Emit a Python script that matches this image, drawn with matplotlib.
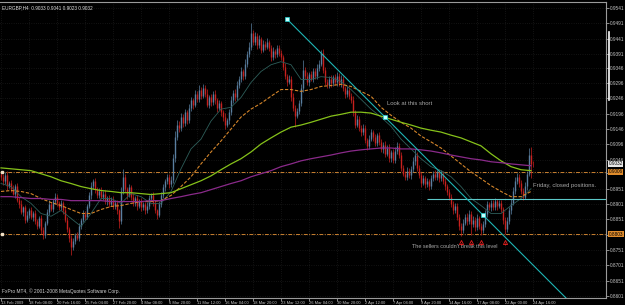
import matplotlib.pyplot as plt
import matplotlib.transforms as mtransforms
from matplotlib.lines import Line2D
import numpy as np

plt.rcParams['font.family'] = ['Liberation Sans', 'DejaVu Sans']

# EURGBP H4 candles, prices in pips (x 0.0001)
first_open = 8998
close_pips = [
    8990, 8975, 8995, 8960, 8970, 8950, 8935, 8960, 8915, 8900,
    8875, 8890, 8850, 8865, 8880, 8860, 8872, 8845, 8830, 8855,
    8815, 8800, 8840, 8875, 8900, 8885, 8910, 8925, 8905, 8890,
    8905, 8880, 8850, 8820, 8790, 8760, 8780, 8800, 8790, 8830,
    8850, 8870, 8860, 8895, 8930, 8960, 8975, 8950, 8930, 8945,
    8925, 8935, 8910, 8920, 8900, 8915, 8895, 8905, 8880, 8845,
    8945, 8990, 8950, 8930, 8955, 8925, 8905, 8920, 8895, 8910,
    8890, 8900, 8880, 8895, 8920, 8930, 8905, 8880, 8865, 8900,
    8930, 8955, 8975, 8990, 8965, 8980, 9050, 9120, 9160, 9150,
    9185, 9165, 9200, 9175, 9215, 9240, 9225, 9260, 9245, 9275,
    9255, 9280, 9262, 9225, 9250, 9235, 9260, 9240, 9215, 9230,
    9200, 9185, 9160, 9175, 9200, 9240, 9265, 9250, 9290, 9310,
    9335, 9320, 9360, 9390, 9415, 9460, 9430, 9450, 9420, 9440,
    9405, 9425, 9415, 9430, 9410, 9380, 9400, 9390, 9410, 9395,
    9380, 9350, 9320, 9300, 9310, 9250, 9215, 9190, 9205, 9230,
    9280, 9340, 9320, 9300, 9325, 9310, 9335, 9320, 9345, 9360,
    9395, 9340, 9300, 9290, 9310, 9295, 9315, 9300, 9320, 9295,
    9310, 9280, 9260, 9275, 9255, 9240, 9200, 9160, 9180, 9150,
    9135, 9150, 9110, 9090, 9115, 9135, 9120, 9100, 9125, 9105,
    9080, 9095, 9065, 9085, 9050, 9070, 9045, 9075, 9090, 9060,
    9020, 9000, 8990, 9010, 8995, 9015, 9040, 9060, 9020, 8995,
    8970, 8985, 8965, 8975, 8960, 8985, 9000, 8990, 9005, 8985,
    9000, 8975, 8960, 8940, 8925, 8900, 8880, 8895, 8860, 8830,
    8815, 8840, 8860, 8845, 8870, 8835, 8850, 8825, 8855, 8830,
    8815, 8835, 8870, 8900, 8890, 8905, 8890, 8910, 8895, 8905,
    8885, 8850, 8820, 8845, 8880, 8905, 8945, 8975, 8990, 8970,
    8945, 8925, 8960, 9000, 9060, 9033, 9032,
]
upper_wick = [
    12, 8, 10, 15, 6, 9, 12, 7, 10, 8,
    14, 6, 9, 12, 7, 10, 5, 11, 8, 6,
    9, 12, 7, 10, 14, 6, 8, 11, 9, 5,
    10, 7, 12, 8, 6, 9, 11, 7, 10, 8,
    6, 12, 9, 7, 10, 14, 8, 11, 6, 9,
    10, 7, 12, 6, 9, 8, 11, 7, 10, 6,
    12, 26, 9, 7, 10, 8, 11, 6, 9, 7,
    10, 8, 6, 12, 9, 7, 10, 8, 6, 11,
    9, 12, 7, 10, 8, 11, 14, 18, 15, 12,
    14, 9, 11, 8, 12, 10, 7, 13, 9, 15,
    8, 12, 10, 14, 7, 11, 9, 12, 8, 10,
    9, 7, 12, 8, 10, 13, 9, 11, 14, 10,
    12, 8, 15, 11, 14, 32, 10, 13, 9, 12,
    8, 11, 9, 12, 7, 10, 13, 8, 11, 9,
    10, 8, 12, 7, 11, 9, 13, 8, 10, 12,
    14, 33, 9, 11, 8, 12, 10, 9, 13, 11,
    10, 12, 8, 11, 9, 13, 7, 10, 12, 8,
    11, 9, 7, 12, 8, 10, 13, 9, 11, 8,
    10, 12, 9, 7, 13, 10, 8, 11, 9, 12,
    10, 8, 12, 9, 11, 7, 10, 13, 15, 9,
    11, 8, 10, 12, 9, 11, 14, 21, 10, 8,
    9, 12, 7, 10, 8, 11, 9, 13, 8, 10,
    12, 8, 10, 7, 11, 9, 12, 8, 10, 7,
    9, 11, 8, 12, 10, 7, 11, 9, 12, 8,
    10, 9, 12, 11, 8, 10, 9, 12, 8, 10,
    9, 7, 10, 12, 11, 13, 10, 14, 12, 9,
    11, 8, 12, 10, 25, 27, 8,
]
lower_wick = [
    9, 11, 7, 12, 8, 10, 6, 13, 9, 11,
    8, 12, 10, 7, 11, 9, 13, 8, 10, 7,
    12, 14, 9, 8, 11, 7, 10, 9, 12, 8,
    9, 11, 8, 10, 12, 26, 9, 11, 8, 10,
    12, 8, 10, 9, 7, 11, 9, 12, 8, 10,
    9, 11, 8, 12, 10, 7, 11, 9, 12, 23,
    8, 10, 9, 12, 7, 11, 9, 10, 12, 8,
    11, 9, 12, 8, 10, 7, 11, 9, 14, 8,
    10, 9, 12, 8, 11, 10, 9, 12, 10, 14,
    9, 12, 8, 11, 10, 9, 13, 8, 11, 10,
    12, 9, 11, 8, 10, 13, 9, 11, 12, 8,
    10, 12, 14, 9, 11, 8, 10, 12, 9, 11,
    10, 13, 9, 11, 8, 12, 10, 9, 13, 8,
    11, 9, 12, 8, 10, 13, 9, 11, 8, 12,
    9, 11, 10, 13, 8, 12, 10, 38, 9, 11,
    10, 12, 9, 11, 13, 8, 10, 12, 9, 11,
    8, 12, 10, 9, 11, 13, 8, 10, 12, 9,
    11, 10, 12, 8, 11, 9, 10, 12, 9, 11,
    12, 9, 11, 14, 10, 8, 12, 9, 11, 10,
    9, 12, 10, 8, 11, 13, 9, 10, 12, 8,
    11, 9, 12, 10, 8, 11, 9, 12, 10, 9,
    12, 8, 11, 9, 13, 10, 8, 11, 9, 12,
    10, 9, 12, 8, 11, 10, 12, 9, 11, 13,
    19, 10, 9, 12, 8, 35, 10, 12, 9, 11,
    16, 10, 9, 12, 8, 11, 9, 10, 12, 8,
    11, 13, 17, 10, 9, 12, 8, 11, 10, 12,
    11, 10, 9, 12, 8, 48, 9,
]

# moving averages read every 5 bars (pips)
ma_step = 5
ma_fast = [8968, 8958, 8925, 8903, 8870, 8861, 8880, 8854, 8828, 8870,
           8919, 8919, 8903, 8935, 8925, 8903, 8903, 8942, 9016, 9081,
           9113, 9172, 9211, 9217, 9249, 9298, 9334, 9356, 9366, 9356,
           9308, 9308, 9317, 9314, 9301, 9275, 9243, 9211, 9185, 9155,
           9113, 9081, 9049, 9023, 9010, 8990, 8958, 8919, 8896, 8870,
           8870, 8896, 8919, 8951]
ma_mid = [8942, 8945, 8942, 8935, 8919, 8906, 8896, 8883, 8870, 8870,
          8883, 8893, 8896, 8903, 8909, 8909, 8912, 8929, 8958, 8990,
          9032, 9071, 9107, 9146, 9185, 9211, 9230, 9253, 9275, 9275,
          9269, 9275, 9285, 9288, 9292, 9285, 9269, 9253, 9217, 9191,
          9168, 9149, 9123, 9104, 9084, 9058, 9032, 9006, 8984, 8961,
          8942, 8925, 8925, 8942]
ma_slow = [9019, 9016, 9013, 9010, 9000, 8990, 8977, 8968, 8958, 8951,
           8945, 8942, 8938, 8938, 8935, 8932, 8935, 8938, 8951, 8964,
           8977, 8993, 9013, 9032, 9049, 9071, 9097, 9117, 9136, 9152,
           9159, 9168, 9178, 9188, 9194, 9201, 9201, 9198, 9188, 9178,
           9168, 9159, 9149, 9142, 9136, 9126, 9117, 9104, 9091, 9065,
           9042, 9023, 9013, 9010]
ma_long = [8925, 8925, 8922, 8919, 8919, 8916, 8916, 8912, 8912, 8912,
           8912, 8909, 8909, 8909, 8909, 8912, 8912, 8919, 8925, 8932,
           8938, 8948, 8958, 8968, 8977, 8990, 9000, 9010, 9023, 9032,
           9042, 9049, 9055, 9061, 9068, 9074, 9078, 9081, 9084, 9084,
           9081, 9081, 9078, 9074, 9068, 9061, 9055, 9049, 9045, 9039,
           9036, 9032, 9029, 9026]

date_labels = ['13 Feb 2009', '18 Feb 08:00', '20 Feb 16:00', '25 Feb 04:00',
               '27 Feb 20:00', '4 Mar 08:00', '6 Mar 20:00', '11 Mar 12:00',
               '16 Mar 04:00', '18 Mar 20:00', '23 Mar 12:00', '26 Mar 04:00',
               '30 Mar 20:00', '2 Apr 12:00', '7 Apr 04:00', '9 Apr 20:00',
               '14 Apr 16:00', '17 Apr 08:00', '22 Apr 00:00', '24 Apr 16:00']
label_every = 14
price_ticks = [0.9541, 0.9491, 0.9441, 0.9391, 0.9346, 0.9296, 0.9246, 0.9196,
               0.9146, 0.9096, 0.9046, 0.9001, 0.8951, 0.8901, 0.8851, 0.8801,
               0.8751, 0.8701, 0.8651, 0.8601]

level_high = 0.9006
level_low = 0.8803
support = 0.8918
support_from = 213
trend_x = [143, 192, 241]
trend_y = [0.9505, 0.9185, 0.8865]
arrow_bars = [230, 235, 240, 252]
arrow_price = 0.8776
last_price = 0.9032

# colours
bg = 'black'
fg = '#c4c4c4'
up_col = '#5a7fa0'
dn_col = '#c8201e'

close = np.array(close_pips) / 1e4
opn = np.r_[first_open / 1e4, close[:-1]]
high = np.maximum(opn, close) + np.array(upper_wick) / 1e4
low = np.minimum(opn, close) - np.array(lower_wick) / 1e4
bars = np.arange(len(close))
cols = np.where(close >= opn, up_col, dn_col)

fig = plt.figure(figsize=(6.25, 3.05), dpi=100, facecolor=bg)
ax = fig.add_axes([0.0, 0.023, 0.9696, 0.9705], facecolor=bg)
x_left, x_right = -0.5, 302.5
ax.set_xlim(x_left, x_right)
ax.set_ylim(0.8594, 0.9561)

ax.grid(True, color='#3a3a3a', linestyle=(0, (1, 3)), linewidth=0.4)
ax.set_axisbelow(True)

# candles
ax.vlines(bars, low, high, colors=cols, linewidth=0.5, zorder=3)
ax.vlines(bars, np.minimum(opn, close), np.maximum(opn, close), colors=cols,
          linewidth=1.0, zorder=3)

# moving averages
ma_x = np.arange(len(ma_fast)) * ma_step
ax.plot(ma_x, np.array(ma_fast) / 1e4, color='#2e5e5a', lw=0.6, zorder=4)
ax.plot(ma_x, np.array(ma_mid) / 1e4, color='#d4852a', lw=0.8,
        dashes=(3, 1.5), zorder=4)
ax.plot(ma_x, np.array(ma_slow) / 1e4, color='#86c21a', lw=0.9, zorder=4)
ax.plot(ma_x, np.array(ma_long) / 1e4, color='#8a2a8a', lw=0.9, zorder=4)

# horizontal levels
for lvl in (level_high, level_low):
    ax.axhline(lvl, color='#c98030', lw=0.7, linestyle=(0, (4, 1.5, 1, 1.5)), zorder=2)
    ax.plot([x_left + 0.8], [lvl], marker='s', ms=1.6, color='#f0e0c8', zorder=5)
ax.hlines(support, support_from, x_right, color='#5cc8c8', lw=0.8, zorder=4)

# trend line
slope = (trend_y[1] - trend_y[0]) / (trend_x[1] - trend_x[0])
ax.plot([trend_x[0], x_right], [trend_y[0], trend_y[0] + slope * (x_right - trend_x[0])],
        color='#1fb5b5', lw=0.8, zorder=5)
ax.plot(trend_x, trend_y, linestyle='none', marker='s', ms=2.4,
        mfc='#c8ffff', mec='#1fd0d0', mew=0.5, zorder=6)

# arrows under the lows
ax.plot(arrow_bars, [arrow_price] * len(arrow_bars), linestyle='none',
        marker='^', ms=3.0, mfc='none', mec='#e82020', mew=0.6, zorder=6)
ax.vlines(arrow_bars, arrow_price - 0.0009, arrow_price - 0.0003,
          color='#e82020', lw=0.6, zorder=6)

txt_col = '#a8a8a8'
ax.text(193, 0.9228, 'Look at this short', color=txt_col, fontsize=4.2, va='center')
ax.text(266, 0.8960, 'Friday, closed positions.', color=txt_col, fontsize=4.2, va='center')
ax.text(205.5, 0.8761, "The sellers couldn't break this level", color=txt_col,
        fontsize=4.0, va='center')
ax.text(0.004, 0.988, 'EURGBP,H4  0.9033 0.9041 0.9023 0.9032', transform=ax.transAxes,
        color='#e0e0e0', fontsize=3.4, va='top')
ax.text(0.003, 0.012, 'FxPro MT4, \u00a9 2001-2008 MetaQuotes Software Corp.',
        transform=ax.transAxes, color='#d0d0d0', fontsize=3.5, va='bottom')

# axes
ax.spines['left'].set_visible(False)
for side in ('right', 'bottom', 'top'):
    ax.spines[side].set_color('#9a9a9a')
    ax.spines[side].set_linewidth(0.8)

# the price tags hide the tick labels they cover
tag_levels = (level_high, level_low)
tick_text = ['' if min(abs(v - t) for t in tag_levels) < 0.0012 else f'{v:.4f}'
             for v in price_ticks]
ax.yaxis.tick_right()
ax.set_yticks(price_ticks, tick_text)
ax.set_xticks(np.arange(len(date_labels)) * label_every, date_labels)
for lbl in ax.get_xticklabels():
    lbl.set_horizontalalignment('left')
ax.tick_params(axis='y', labelsize=3.4, colors=fg, length=2, width=0.5, pad=0.8)
ax.tick_params(axis='x', labelsize=2.9, colors=fg, length=2, width=0.5, pad=0.5)

# price tags on the right axis
blend = mtransforms.blended_transform_factory(ax.transAxes, ax.transData)
for lvl in tag_levels:
    ax.text(1.004, lvl, f'{lvl:.4f}', transform=blend, fontsize=3.4, color='black',
            va='center', ha='left', clip_on=False,
            bbox=dict(boxstyle='square,pad=0.15', fc='#e08c2c', ec='none'))
ax.text(1.004, last_price, f'{last_price:.4f}', transform=blend, fontsize=3.4,
        color='black', va='center', ha='left', clip_on=False,
        bbox=dict(boxstyle='square,pad=0.15', fc='#e8e8e8', ec='none'))

fig.add_artist(Line2D([609 / 625] * 2, [1 - 32 / 305, 1 - 100 / 305],
                      color='white', lw=1.2))

fig.savefig('out.png', dpi=100, facecolor=bg)
